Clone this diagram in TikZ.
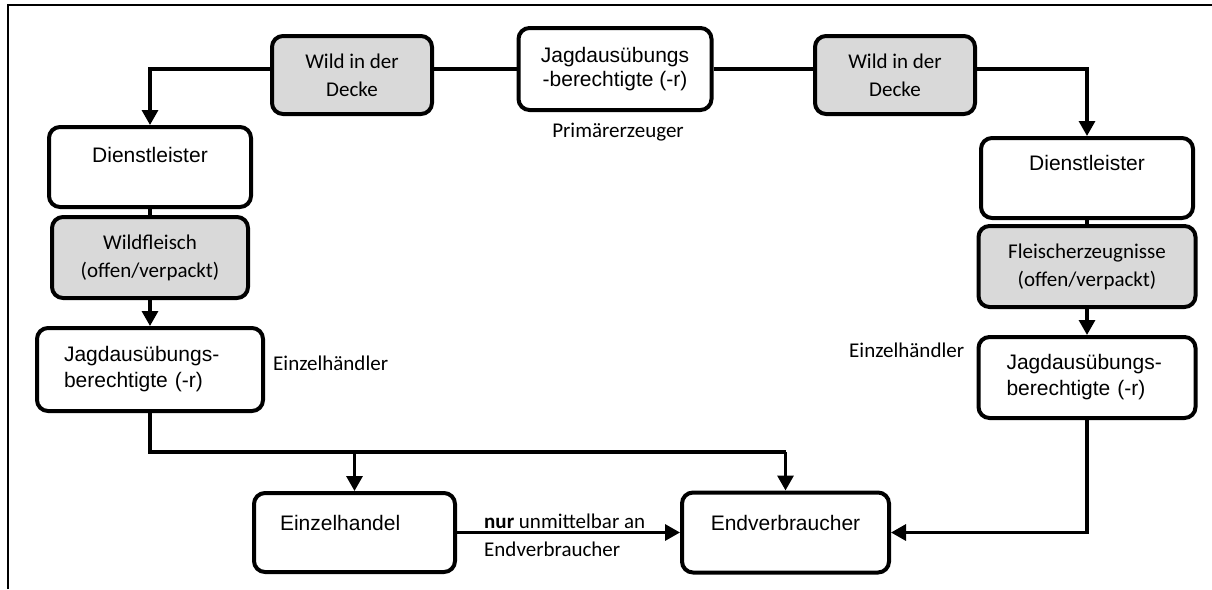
\documentclass[tikz,border=0pt]{standalone}
\usepackage{fontspec}
\setmainfont{Liberation Sans}
\newfontfamily\calfont{Carlito}
\usetikzlibrary{arrows.meta,backgrounds}
\definecolor{boxgray}{HTML}{D9D9D9}
\begin{document}
\begin{tikzpicture}[x=1pt,y=-1pt,
 box/.style={draw, line width=4pt, rounded corners=11pt, fill=white, font=\fontsize{21}{24}\selectfont, align=center, inner sep=0pt},
 gbox/.style={box, fill=boxgray, font=\calfont\fontsize{21}{28}\selectfont},
 jbox/.style={box, align=left, font=\fontsize{21}{26}\selectfont},
 lbl/.style={font=\calfont\fontsize{21}{28}\selectfont, inner sep=0pt},
 conn/.style={line width=3.2pt},
 arr/.style={conn, -{Triangle[length=15pt,width=16pt]}},
]
\useasboundingbox (0,0) rectangle (1212,589);
\draw[line width=2pt] (8,589) -- (8,5) -- (1212,5);

% top
\node[box, minimum width=193pt, minimum height=82pt] (TB) at (615,69) {Jagdausübungs\\-berechtigte (-r)};
\node[lbl] (prim) at (618,132) {Primärerzeuger};
\node[gbox, minimum width=160pt, minimum height=78pt] (GL) at (352,75) {Wild in der\\Decke};
\node[gbox, minimum width=160pt, minimum height=78pt] (GR) at (895,75) {Wild in der\\Decke};

% left column
\node[box, minimum width=202pt, minimum height=80pt, text height=15pt, text depth=24pt] (DL) at (150,167) {Dienstleister};
\node[gbox, minimum width=196pt, minimum height=81pt] (WF) at (150,257.5) {Wildfleisch\\(offen/verpackt)};
\node[jbox, minimum width=226pt, minimum height=83pt, text width=172pt] (JL) at (150,369.5) {Jagdausübungs-\\berechtigte (-r)};
\node[lbl, anchor=west] (eL) at (273,363) {Einzelhändler};

% right column
\node[box, minimum width=212pt, minimum height=80pt, text height=15pt, text depth=30pt] (DR) at (1087,178) {Dienstleister};
\node[gbox, minimum width=217pt, minimum height=81pt] (FE) at (1087,266.5) {Fleischerzeugnisse\\(offen/verpackt)};
\node[jbox, minimum width=217pt, minimum height=81pt, text width=161pt] (JR) at (1087,377.5) {Jagdausübungs-\\berechtigte (-r)};
\node[lbl, anchor=west] (eR) at (849,350) {Einzelhändler};

% bottom
\node[box, minimum width=201pt, minimum height=79pt, align=left, text width=149pt, text height=15pt, text depth=19pt] (EH) at (354.5,532.5) {Einzelhandel};
\node[box, minimum width=207pt, minimum height=80pt, text height=15pt, text depth=19pt] (EV) at (785.5,532.5) {Endverbraucher};
\node[lbl, anchor=west, align=left] (nur) at (484,535) {\textbf{nur} unmittelbar an\\Endverbraucher};

\coordinate (bus) at (150,452);

\begin{scope}[on background layer]
\draw[arr] (TB.west) -| (DL.north);
\draw[arr] (TB.east) -| (DR.north);
\draw[conn] (DL.south) -- (WF.north);
\draw[arr] (WF.south) -- (JL.north);
\draw[conn] (DR.south) -- (FE.north);
\draw[arr] (FE.south) -- (JR.north);
\draw[conn] (JL.south) -- (bus) -- (bus -| EV.north);
\draw[arr] (bus -| EH.north) -- (EH.north);
\draw[arr] (bus -| EV.north) -- (EV.north);
\draw[arr] (EH.east) -- (EV.west);
\draw[arr] (JR.south) |- (EV.east);
\end{scope}
\end{tikzpicture}
\end{document}
